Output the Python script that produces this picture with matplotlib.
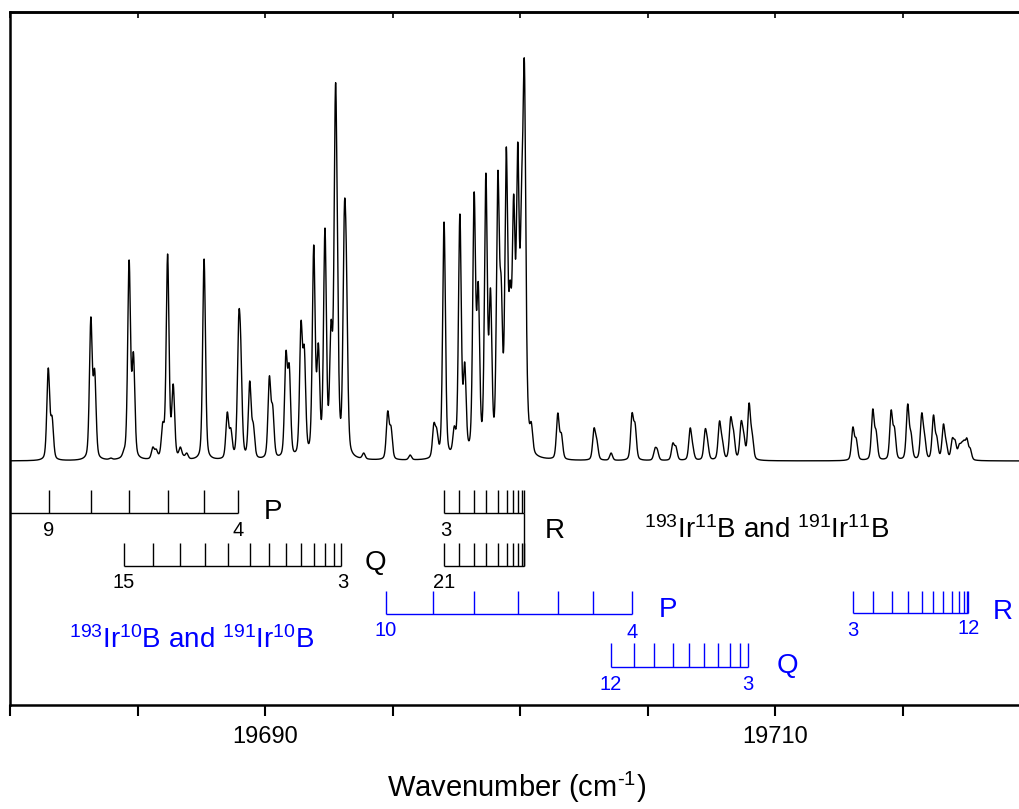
import numpy as np
import matplotlib
matplotlib.use("Agg")
import matplotlib.pyplot as plt
from matplotlib.ticker import FixedLocator, FormatStrFormatter

plt.rcParams['font.family'] = ['Liberation Sans', 'DejaVu Sans']
plt.rcParams['mathtext.default'] = 'regular'

# ---------------- data ----------------
# spectrum: peak centres (cm-1) and apparent heights (arb. units above baseline)
peak_pos = np.array([
    19681.50, 19681.65, 19683.17, 19683.32, 19683.95, 19684.47, 19684.67, 19684.84,
    19685.60, 19685.73, 19685.99, 19686.18, 19686.40, 19686.68, 19686.80, 19686.93,
    19687.61, 19688.52, 19688.66, 19688.97, 19689.05, 19689.40, 19689.54, 19690.17,
    19690.30, 19690.82, 19690.95, 19691.41, 19691.54, 19691.91, 19692.09, 19692.35,
    19692.59, 19692.76, 19692.83, 19693.11, 19693.19, 19693.87, 19694.81, 19694.94,
    19695.69, 19696.62, 19696.73, 19697.02, 19697.42, 19697.64, 19697.83, 19698.20,
    19698.36, 19698.66, 19698.84, 19699.13, 19699.26, 19699.46, 19699.61, 19699.75,
    19699.91, 19700.06, 19700.17, 19700.29, 19700.44, 19701.48, 19701.62, 19702.90,
    19703.01, 19703.57, 19704.39, 19704.51, 19705.29, 19705.38, 19705.99, 19706.11,
    19706.67, 19706.77, 19707.26, 19707.35, 19707.82, 19707.93, 19708.26, 19708.37,
    19708.67, 19708.77, 19708.98, 19709.10, 19713.05, 19713.18, 19713.83, 19713.96,
    19714.55, 19714.68, 19715.20, 19715.33, 19715.75, 19715.86, 19716.21, 19716.34,
    19716.60, 19716.71, 19716.95, 19717.06, 19717.22, 19717.32, 19717.41, 19717.52,
    19717.65])
peak_height = np.array([
    93, 45, 144, 92, 3, 12, 201, 109,
    14, 12, 39, 207, 77, 14, 6, 8,
    202, 49, 33, 147, 121, 80, 38, 85,
    56, 110, 97, 140, 115, 216, 118, 233,
    141, 375, 255, 254, 209, 8, 50, 35,
    6, 38, 33, 239, 35, 247, 99, 269,
    179, 288, 173, 290, 184, 314, 181, 267,
    319, 281, 400, 81, 39, 48, 28, 33,
    22, 8, 48, 38, 13, 12, 18, 15,
    33, 17, 32, 22, 40, 23, 44, 31,
    40, 29, 58, 29, 34, 23, 52, 31,
    51, 34, 57, 29, 48, 28, 46, 25,
    37, 20, 23, 21, 17, 19, 21, 23,
    13], dtype=float)

# assignment ladders (line positions, cm-1)
p_11B = [19681.53, 19683.16, 19684.68, 19686.18, 19687.61, 19688.95]            # J = 9 ... 4
q_11B = [19684.47, 19685.60, 19686.68, 19687.64, 19688.56, 19689.40, 19690.16,
         19690.82, 19691.41, 19691.92, 19692.35, 19692.72, 19692.99]             # J = 15 ... 3
r_11B_low = [19697.02, 19697.62, 19698.20, 19698.67, 19699.13, 19699.48,
             19699.74, 19699.93, 19700.07, 19700.15]                             # from J = 3
r_11B_high = [19697.02, 19697.62, 19698.20, 19698.67, 19699.13, 19699.48,
              19699.74, 19699.93, 19700.07, 19700.15]                            # from J = 21
p_10B = [19694.73, 19696.60, 19698.21, 19699.91, 19701.48, 19702.87, 19704.38]  # J = 10 ... 4
q_10B = [19703.56, 19704.47, 19705.27, 19705.99, 19706.64, 19707.23, 19707.75,
         19708.24, 19708.63, 19708.95]                                           # J = 12 ... 3
r_10B = [19713.05, 19713.85, 19714.58, 19715.20, 19715.75, 19716.21, 19716.60,
         19716.94, 19717.22, 19717.41, 19717.51, 19717.58]                       # J = 3 ... 12

x_ticks_major = [19690, 19710]
x_ticks_minor = [19680, 19685, 19695, 19700, 19705, 19715, 19720]

# ---------------- spectrum line from the peak list ----------------
fwhm = 0.13
eta = 0.35


def profile(d):
    s = fwhm / 2.0
    g = np.exp(-np.log(2) * (d / s) ** 2)
    lor = 1.0 / (1.0 + (d / s) ** 2)
    return eta * lor + (1 - eta) * g


K = profile(peak_pos[:, None] - peak_pos[None, :])
amp = peak_height.copy()
for _ in range(500):
    amp *= peak_height / (K @ amp)

xg = np.linspace(19679.5, 19720.5, 12000)
yg = profile(xg[:, None] - peak_pos[None, :]) @ amp

# ---------------- figure ----------------
W, H = 1019, 809
fig = plt.figure(figsize=(W / 100, H / 100), dpi=100)
ax = fig.add_axes([10 / W, (H - 705) / H, 1014 / W, (705 - 12) / H])

ax.plot(xg, yg, color='black', lw=1.0)

xmin, xmax = 19680, 19719.76
ax.set_xlim(xmin, xmax)
ax.set_ylim(-244, 449)

BLUE = '#0000FF'
LW = 1.0


def ladder(ticks, base, top, color, x0=None, x1=None):
    x0 = min(ticks) if x0 is None else x0
    x1 = max(ticks) if x1 is None else x1
    ax.plot([x0, x1], [base, base], color=color, lw=LW, solid_capstyle='butt')
    ax.vlines(ticks, base, top, color=color, lw=LW)


# black (11B) ladders
ladder(p_11B, -52, -29, 'black', x0=xmin - 1)
ladder(q_11B, -105, -82, 'black')
ladder(r_11B_low, -52, -29, 'black')
ladder(r_11B_high, -105, -82, 'black')
ax.vlines(max(r_11B_low), -105, -52, color='black', lw=LW)

# blue (10B) ladders
ladder(p_10B, -153, -130, BLUE)
ladder(q_10B, -206, -182, BLUE)
ladder(r_10B, -152, -130, BLUE)

num_fs = 14.5
br_fs = 20
kw = dict(ha='center', va='center')
ax.text(p_11B[0], -70, '9', fontsize=num_fs, **kw)
ax.text(p_11B[-1], -70, '4', fontsize=num_fs, **kw)
ax.text(19690.31, -51, 'P', fontsize=br_fs, **kw)
ax.text(q_11B[0], -121, '15', fontsize=num_fs, **kw)
ax.text(q_11B[-1] + 0.05, -121, '3', fontsize=num_fs, **kw)
ax.text(19694.31, -102, 'Q', fontsize=br_fs, **kw)
ax.text(r_11B_low[0] + 0.06, -69, '3', fontsize=num_fs, **kw)
ax.text(r_11B_high[0], -122, '21', fontsize=num_fs, **kw)
ax.text(19701.37, -70, 'R', fontsize=br_fs, **kw)
ax.text(19709.65, -69, r'$^{193}$Ir$^{11}$B and $^{191}$Ir$^{11}$B', fontsize=20, **kw)

ax.text(p_10B[0], -170, '10', fontsize=num_fs, color=BLUE, **kw)
ax.text(p_10B[-1], -171, '4', fontsize=num_fs, color=BLUE, **kw)
ax.text(19705.80, -149, 'P', fontsize=br_fs, color=BLUE, **kw)
ax.text(q_10B[0], -223, '12', fontsize=num_fs, color=BLUE, **kw)
ax.text(q_10B[-1], -223, '3', fontsize=num_fs, color=BLUE, **kw)
ax.text(19710.47, -205, 'Q', fontsize=br_fs, color=BLUE, **kw)
ax.text(r_10B[0], -169, '3', fontsize=num_fs, color=BLUE, **kw)
ax.text(r_10B[-1], -168, '12', fontsize=num_fs, color=BLUE, **kw)
ax.text(19718.94, -151, 'R', fontsize=br_fs, color=BLUE, **kw)
ax.text(19687.14, -179, r'$^{193}$Ir$^{10}$B and $^{191}$Ir$^{10}$B', fontsize=20,
        color=BLUE, **kw)

# axes styling
for s in ax.spines.values():
    s.set_linewidth(1.8)
ax.spines['right'].set_visible(False)
ax.xaxis.set_major_locator(FixedLocator(x_ticks_major))
ax.xaxis.set_minor_locator(FixedLocator(x_ticks_minor))
ax.xaxis.set_major_formatter(FormatStrFormatter('%d'))
ax.tick_params(axis='x', which='both', direction='out', length=8, width=1.5,
               top=False, bottom=True)
ax.tick_params(axis='x', which='major', labelsize=17, pad=7)
ax.set_yticks([])
sec = ax.secondary_xaxis('top')
sec.xaxis.set_major_locator(FixedLocator(x_ticks_major + x_ticks_minor))
sec.tick_params(direction='in', length=4, width=1.2, labeltop=False)
sec.spines['top'].set_linewidth(1.8)

ax.set_xlabel('Wavenumber (cm$^{\u2010 1}$)', fontsize=21, labelpad=16)

fig.savefig('out.png', dpi=100)
